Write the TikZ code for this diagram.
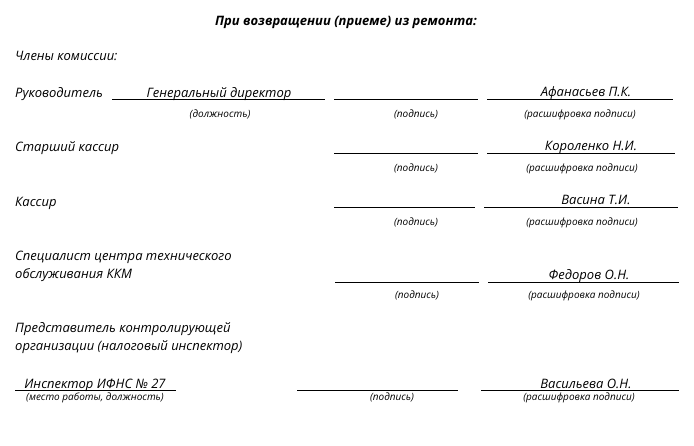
\documentclass[tikz,border=0pt]{standalone}
\usepackage{fontspec}
\setsansfont{Open Sans}
\tikzset{
  txt/.style={font=\sffamily\itshape\fontsize{13}{15}\selectfont, anchor=base west, inner sep=0pt},
  nm/.style={font=\sffamily\itshape\fontsize{13}{15}\selectfont, anchor=base, inner sep=0pt},
  capt/.style={font=\sffamily\itshape\fontsize{10}{11}\selectfont, anchor=base, inner sep=0pt},
  ln/.style={line width=0.8pt}
}
\begin{document}
\begin{tikzpicture}[x=1pt,y=-1pt]
  \useasboundingbox (0,0) rectangle (694,445);

  \node[nm,font=\sffamily\bfseries\itshape\fontsize{13}{15}\selectfont] (title) at (346,25){При возвращении (приеме) из ремонта:};
  \node[txt] (members) at (15,60){Члены комиссии:};

  % руководитель
  \node[txt] (ruk) at (15,97){Руководитель};
  \draw[ln] (112,99) -- (325,99);
  \node[nm] (ruk-pos) at (219,97){Генеральный директор};
  \node[capt] (ruk-poscap) at (220,117){(должность)};
  \draw[ln] (334,99) -- (478,99);
  \node[capt] (ruk-sig) at (416,117){(подпись)};
  \draw[ln] (487,99) -- (673,99);
  \node[nm] (ruk-name) at (586,96){Афанасьев П.К.};
  \node[capt] (ruk-namecap) at (580,117){(расшифровка подписи)};

  % старший кассир
  \node[txt] (stk) at (15,151){Старший кассир};
  \draw[ln] (334,153) -- (478,153);
  \node[capt] (stk-sig) at (416,171){(подпись)};
  \draw[ln] (487,153) -- (675,153);
  \node[nm] (stk-name) at (591,150){Короленко Н.И.};
  \node[capt] (stk-namecap) at (582,171){(расшифровка подписи)};

  % кассир
  \node[txt] (kas) at (15,206){Кассир};
  \draw[ln] (334,207) -- (475,207);
  \node[capt] (kas-sig) at (416,225){(подпись)};
  \draw[ln] (484,207) -- (678,207);
  \node[nm] (kas-name) at (596,204){Васина Т.И.};
  \node[capt] (kas-namecap) at (582,225){(расшифровка подписи)};

  % специалист ЦТО
  \node[txt] (cto1) at (15,260){Специалист центра технического};
  \node[txt] (cto2) at (15,278){обслуживания ККМ};
  \draw[ln] (335,282) -- (479,282);
  \node[capt] (cto-sig) at (417,298){(подпись)};
  \draw[ln] (488,282) -- (679,282);
  \node[nm] (cto-name) at (589,279){Федоров О.Н.};
  \node[capt] (cto-namecap) at (584,298){(расшифровка подписи)};

  % налоговый инспектор
  \node[txt] (nal1) at (15,332){Представитель контролирующей};
  \node[txt] (nal2) at (15,350){организации (налоговый инспектор)};
  \draw[ln] (15,390) -- (176,390);
  \node[nm] (nal-pos) at (95,388){Инспектор ИФНС № 27};
  \node[capt] (nal-poscap) at (95,400){(место работы, должность)};
  \draw[ln] (297,390) -- (458,390);
  \node[capt] (nal-sig) at (392,400){(подпись)};
  \draw[ln] (481,390) -- (679,390);
  \node[nm] (nal-name) at (586,388){Васильева О.Н.};
  \node[capt] (nal-namecap) at (579,400){(расшифровка подписи)};
\end{tikzpicture}
\end{document}
